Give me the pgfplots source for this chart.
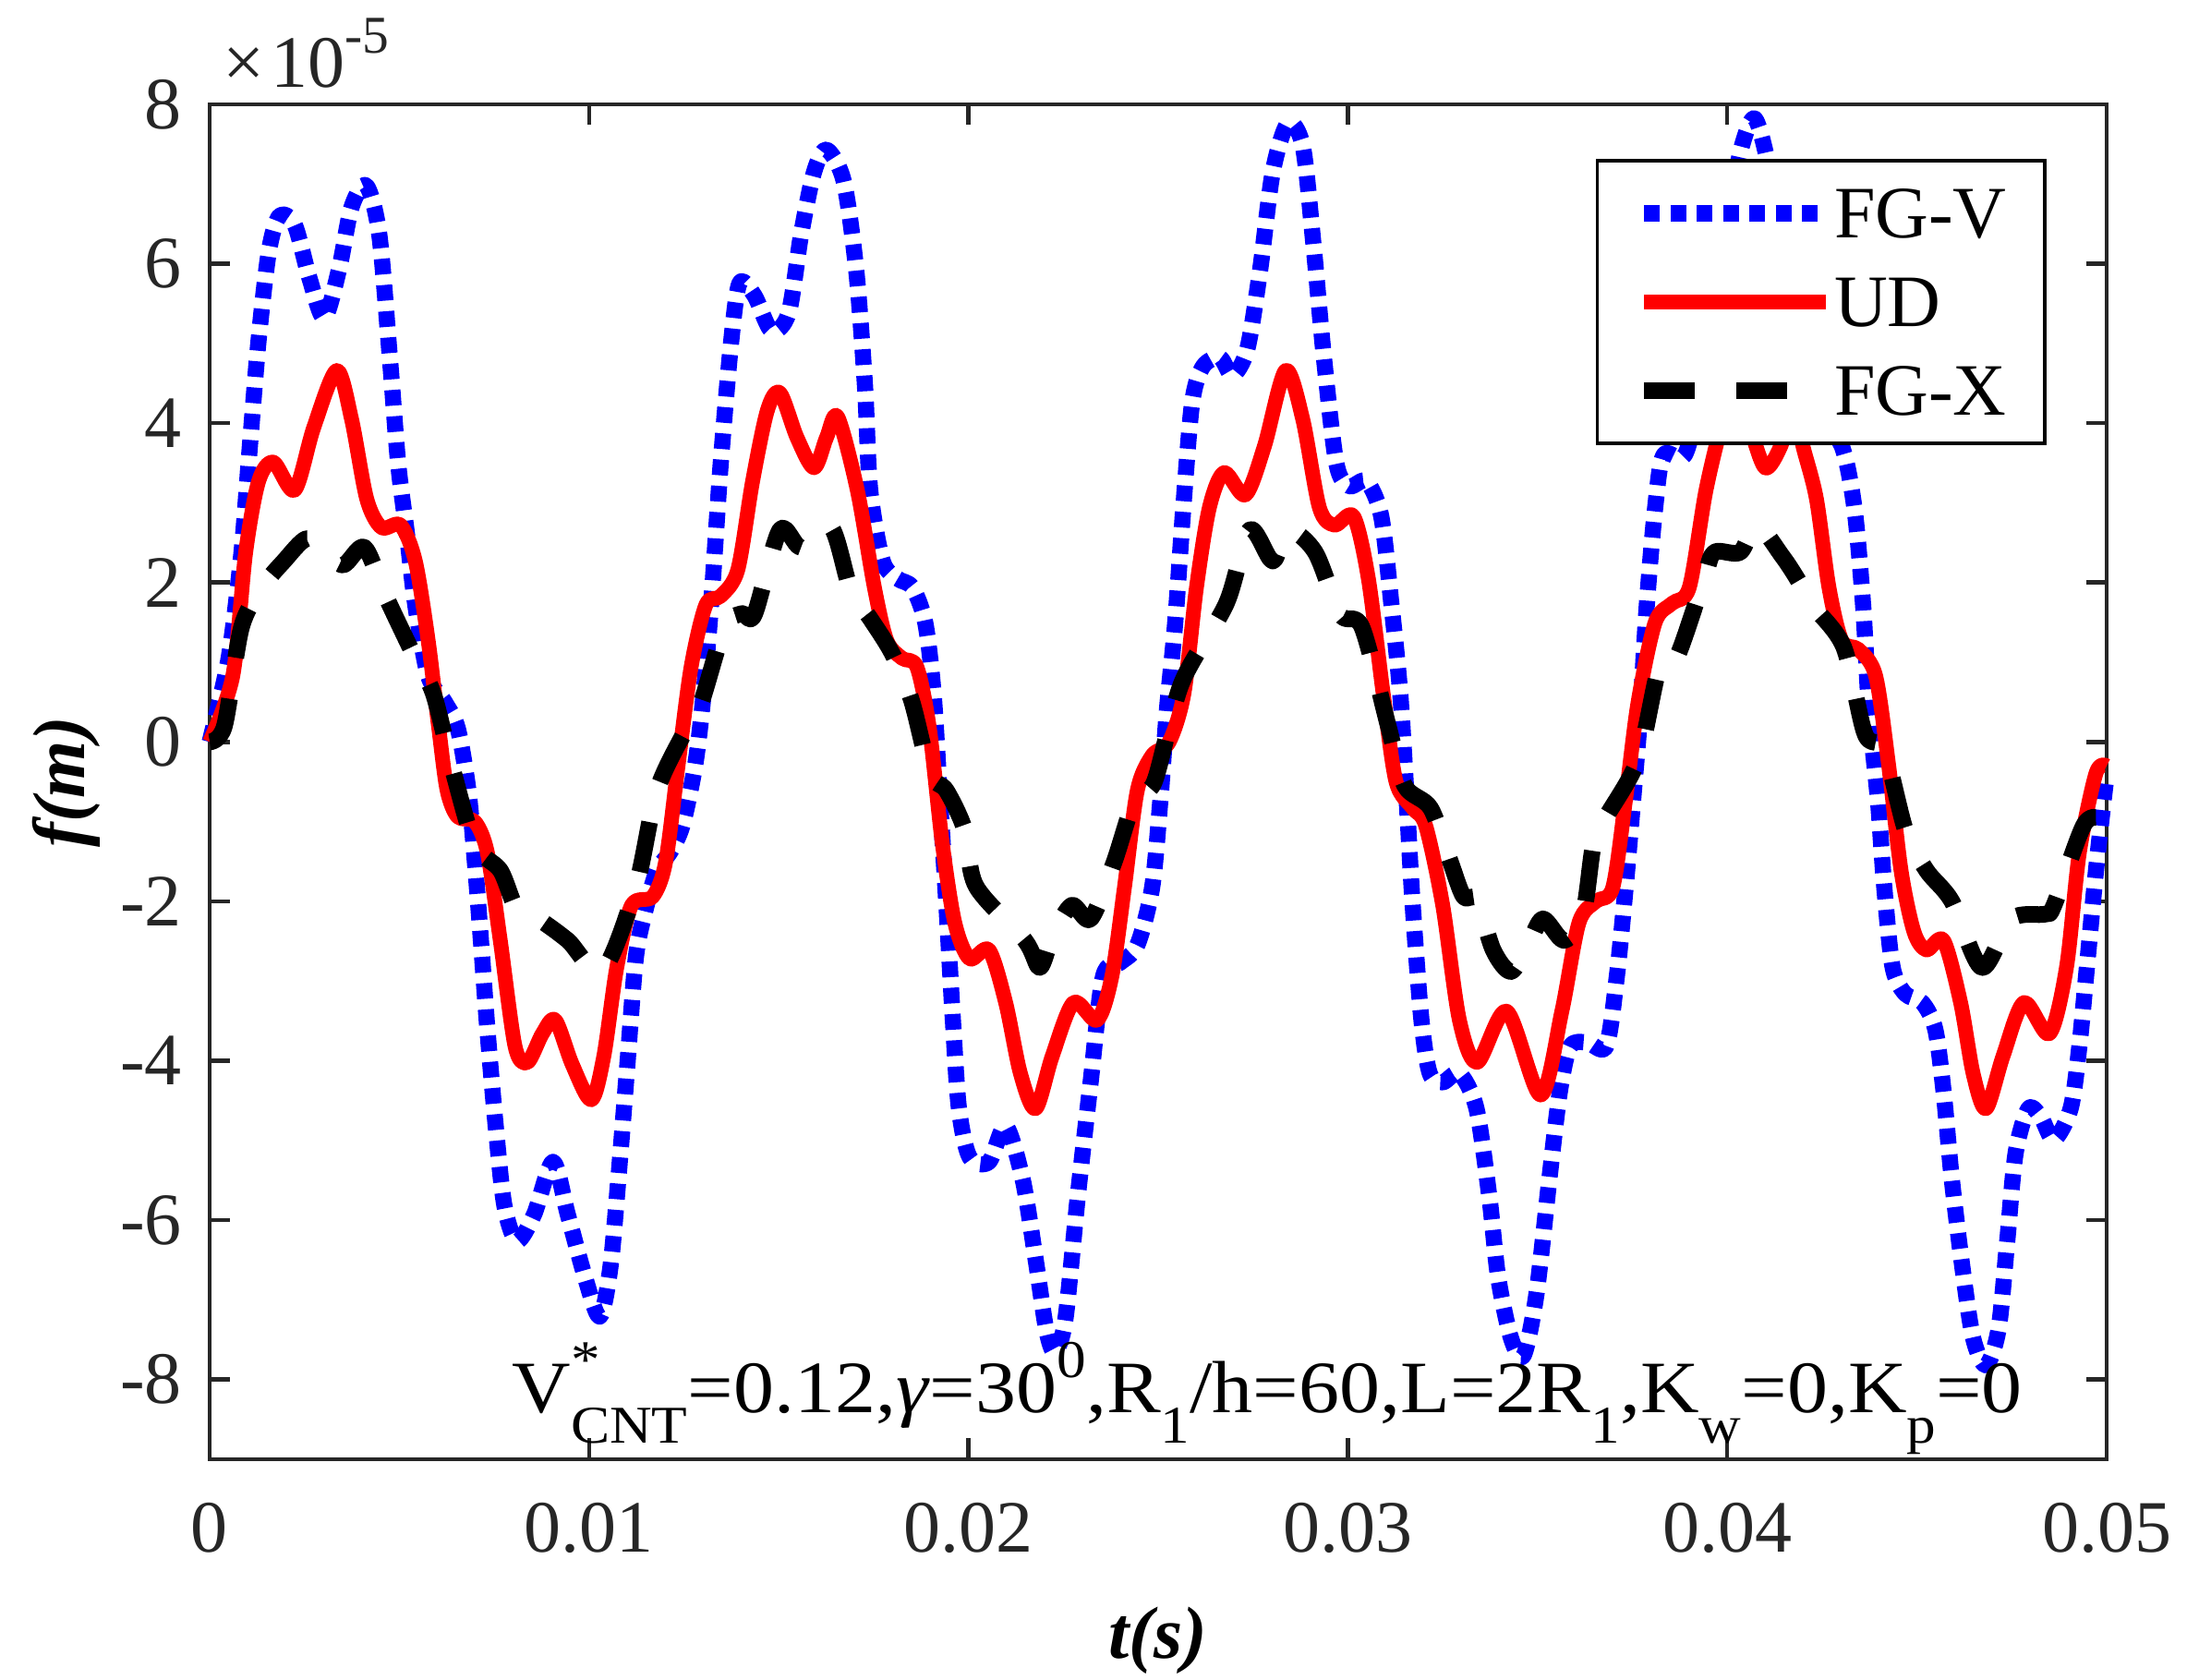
\documentclass[border=0pt]{standalone}
\usepackage{fontspec}
\setmainfont{Liberation Serif}
\usepackage{pgfplots}
\pgfplotsset{compat=1.18}
\definecolor{axgray}{rgb}{0.15,0.15,0.15}
\newcommand{\subsz}{\fontsize{11.5}{13}\selectfont}
\begin{document}
\begin{tikzpicture}
\path[use as bounding box] (-45.4pt,-47.8pt) rectangle (428.2pt,316pt);
\begin{axis}[
  at={(0pt,0pt)}, anchor=south west,
  scale only axis, width=410.8pt, height=293.4pt,
  xmin=0, xmax=0.05, ymin=-9, ymax=8,
  xtick={0,0.01,0.02,0.03,0.04,0.05},
  xticklabels={0,0.01,0.02,0.03,0.04,0.05},
  ytick={-8,-6,-4,-2,0,2,4,6,8},
  yticklabels={-8,-6,-4,-2,0,2,4,6,8},
  scaled ticks=false,
  tick align=inside, major tick length=4.5pt,
  every tick/.style={line width=0.9pt, color=axgray},
  axis line style={line width=0.9pt, color=axgray},
  tick label style={font=\fontsize{16}{19}\selectfont, color=axgray},
  xticklabel style={yshift=-6pt},
  yticklabel style={xshift=-2.5pt},
  clip=false,
  legend image code/.code={\draw[#1] (0pt,0pt) -- (39.4pt,0pt);},
  legend cell align=left,
  legend style={at={(0.9684,0.9598)}, anchor=north east, draw=black,
    line width=0.75pt, fill=white, font=\fontsize{16}{19}\selectfont,
    inner xsep=8.3pt, inner ysep=6pt, row sep=8.4pt,
    nodes={inner sep=0pt, text height=10.8pt, text depth=0pt},
    /tikz/every even column/.append style={column sep=5pt}},
]
\addplot[color=blue, line width=3.5pt, dash pattern=on 3.4pt off 2.3pt, line join=round, smooth] coordinates {
(0,0) (0.00050,1.05) (0.00084,2.38) (0.00106,3.71) (0.00129,5.04) (0.00156,6.15)
(0.00184,6.60) (0.00224,6.49) (0.00263,5.82) (0.00302,5.32) (0.00341,5.93) (0.00374,6.71)
(0.00413,6.98) (0.00447,6.37) (0.00475,4.82) (0.00497,3.49) (0.00520,2.61) (0.00542,1.72)
(0.00576,0.83) (0.00620,0.50) (0.00654,0.17) (0.00682,-0.61) (0.00699,-1.50) (0.00715,-2.49)
(0.00732,-3.60) (0.00754,-4.82) (0.00777,-5.82) (0.00810,-6.26) (0.00855,-5.93) (0.00905,-5.27)
(0.00944,-5.93) (0.00989,-6.71) (0.01028,-7.21) (0.01056,-6.60) (0.01079,-5.38) (0.01101,-4.05)
(0.01123,-2.72) (0.01146,-2.16) (0.01179,-1.61) (0.01213,-1.39) (0.01246,-1.05) (0.01280,-0.28)
(0.01302,0.61) (0.01325,1.94) (0.01347,3.49) (0.01375,5.04) (0.01397,5.76) (0.01436,5.60)
(0.01481,5.16) (0.01526,5.38) (0.01559,6.37) (0.01593,7.15) (0.01626,7.43) (0.01671,7.04)
(0.01704,5.93) (0.01727,4.49) (0.01741,3.16) (0.01774,2.27) (0.01813,2.05) (0.01852,1.94)
(0.01886,1.50) (0.01908,0.61) (0.01925,-0.72) (0.01942,-2.05) (0.01959,-3.49) (0.01975,-4.60)
(0.02003,-5.21) (0.02054,-5.27) (0.02098,-4.82) (0.02143,-5.49) (0.02177,-6.49) (0.02205,-7.37)
(0.02227,-7.65) (0.02255,-7.26) (0.02288,-5.71) (0.02322,-4.27) (0.02355,-2.94) (0.02400,-2.77)
(0.02445,-2.55) (0.02484,-1.83) (0.02506,-0.72) (0.02523,0.39) (0.02545,1.50) (0.02568,3.05)
(0.02590,4.27) (0.02618,4.71) (0.02663,4.82) (0.02696,4.60) (0.02735,4.93) (0.02769,5.93)
(0.02802,7.15) (0.02842,7.76) (0.02881,7.48) (0.02909,6.26) (0.02937,4.82) (0.02970,3.49)
(0.03004,3.21) (0.03049,3.27) (0.03088,2.83) (0.03115,1.72) (0.03138,0.61) (0.03155,-0.72)
(0.03171,-2.05) (0.03194,-3.49) (0.03216,-4.16) (0.03250,-4.27) (0.03294,-4.16) (0.03339,-4.60)
(0.03373,-5.71) (0.03396,-6.71) (0.03430,-7.48) (0.03463,-7.70) (0.03497,-6.93) (0.03531,-5.49)
(0.03559,-4.38) (0.03586,-3.82) (0.03631,-3.77) (0.03681,-3.82) (0.03709,-2.94) (0.03732,-1.83)
(0.03754,-0.61) (0.03771,0.39) (0.03788,1.72) (0.03810,2.94) (0.03832,3.60) (0.03888,3.60)
(0.03930,4.40) (0.03970,5.60) (0.04010,6.80) (0.04040,7.50) (0.04073,7.82) (0.04110,7.20)
(0.04150,6.00) (0.04190,4.80) (0.04240,4.10) (0.04302,3.71) (0.04335,2.94) (0.04358,1.72)
(0.04374,0.39) (0.04397,-0.72) (0.04414,-1.83) (0.04436,-2.83) (0.04469,-3.16) (0.04514,-3.27)
(0.04548,-3.60) (0.04570,-4.38) (0.04592,-5.49) (0.04620,-6.60) (0.04648,-7.48) (0.04682,-7.82)
(0.04715,-7.37) (0.04738,-6.26) (0.04760,-5.16) (0.04794,-4.60) (0.04827,-4.71) (0.04861,-4.99)
(0.04905,-4.60) (0.04928,-3.82) (0.04950,-2.72) (0.04972,-1.61) (0.04995,-0.61) (0.05000,-0.45)
};
\addlegendentry{FG-V}
\addplot[color=red, line width=3.2pt, line join=round, smooth] coordinates {
(0,0) (0.00061,0.83) (0.00095,2.38) (0.00129,3.27) (0.00168,3.51) (0.00224,3.16)
(0.00274,3.94) (0.00335,4.66) (0.00374,4.05) (0.00414,3.05) (0.00453,2.69) (0.00503,2.72)
(0.00542,2.27) (0.00576,1.27) (0.00604,0.17) (0.00626,-0.61) (0.00654,-0.94) (0.00699,-1.00)
(0.00732,-1.39) (0.00766,-2.49) (0.00805,-3.82) (0.00838,-4.02) (0.00877,-3.66) (0.00911,-3.49)
(0.00956,-4.05) (0.01006,-4.49) (0.01039,-3.94) (0.01073,-2.83) (0.01112,-2.05) (0.01168,-1.94)
(0.01202,-1.50) (0.01235,-0.28) (0.01269,0.94) (0.01308,1.72) (0.01347,1.83) (0.01392,2.16)
(0.01431,3.27) (0.01470,4.16) (0.01503,4.38) (0.01548,3.82) (0.01593,3.44) (0.01626,3.82)
(0.01655,4.08) (0.01707,3.16) (0.01752,1.94) (0.01785,1.27) (0.01825,1.05) (0.01864,0.94)
(0.01897,0.17) (0.01931,-1.27) (0.01964,-2.27) (0.02003,-2.72) (0.02054,-2.61) (0.02098,-3.27)
(0.02137,-4.16) (0.02177,-4.60) (0.02221,-3.94) (0.02277,-3.27) (0.02339,-3.49) (0.02378,-2.94)
(0.02411,-1.83) (0.02445,-0.61) (0.02484,-0.17) (0.02529,0.00) (0.02568,0.61) (0.02601,1.94)
(0.02635,2.94) (0.02674,3.38) (0.02730,3.10) (0.02780,3.71) (0.02836,4.66) (0.02881,4.05)
(0.02925,2.94) (0.02965,2.72) (0.03015,2.83) (0.03054,2.05) (0.03093,0.61) (0.03127,-0.50)
(0.03171,-0.83) (0.03205,-1.05) (0.03250,-2.05) (0.03294,-3.49) (0.03341,-4.02) (0.03419,-3.38)
(0.03508,-4.43) (0.03564,-3.38) (0.03609,-2.27) (0.03654,-2.00) (0.03698,-1.83) (0.03732,-0.72)
(0.03765,0.50) (0.03810,1.50) (0.03855,1.74) (0.03900,1.94) (0.03944,3.16) (0.03989,4.05)
(0.04025,4.50) (0.04060,3.95) (0.04100,3.44) (0.04140,3.70) (0.04175,4.20) (0.04200,3.70)
(0.04235,3.05) (0.04268,1.94) (0.04302,1.27) (0.04346,1.16) (0.04391,0.83) (0.04425,-0.28)
(0.04458,-1.61) (0.04492,-2.38) (0.04525,-2.61) (0.04570,-2.49) (0.04615,-3.27) (0.04648,-4.16)
(0.04682,-4.60) (0.04727,-3.94) (0.04782,-3.27) (0.04849,-3.66) (0.04894,-2.83) (0.04928,-1.39)
(0.04972,-0.39) (0.05000,-0.30)
};
\addlegendentry{UD}
\addplot[color=black, line width=3.6pt, dash pattern=on 11pt off 9pt, line join=round, smooth] coordinates {
(0,0) (0.00039,0.20) (0.00084,1.44) (0.00140,1.95) (0.00196,2.27) (0.00255,2.55)
(0.00300,2.40) (0.00352,2.22) (0.00408,2.44) (0.00464,1.83) (0.00542,1.05) (0.00590,0.60)
(0.00643,-0.39) (0.00700,-1.30) (0.00766,-1.61) (0.00810,-2.10) (0.00866,-2.22) (0.00944,-2.49)
(0.01034,-2.88) (0.01123,-1.83) (0.01179,-0.61) (0.01257,0.17) (0.01296,0.50) (0.01358,1.45)
(0.01403,1.61) (0.01436,1.60) (0.01503,2.66) (0.01559,2.44) (0.01637,2.70) (0.01690,1.90)
(0.01741,1.55) (0.01800,1.10) (0.01850,0.52) (0.01900,-0.40) (0.01942,-0.61) (0.01990,-1.10)
(0.02020,-1.81) (0.02149,-2.49) (0.02188,-2.83) (0.02221,-2.44) (0.02272,-2.05) (0.02322,-2.22)
(0.02383,-1.52) (0.02440,-0.70) (0.02490,-0.50) (0.02562,0.74) (0.02680,1.74) (0.02741,2.66)
(0.02802,2.27) (0.02842,2.66) (0.02914,2.38) (0.02980,1.60) (0.03037,1.44) (0.03107,0.19)
(0.03150,-0.55) (0.03218,-0.83) (0.03270,-1.50) (0.03305,-1.94) (0.03340,-1.98) (0.03383,-2.61)
(0.03430,-2.88) (0.03475,-2.55) (0.03514,-2.22) (0.03570,-2.49) (0.03620,-2.16) (0.03648,-1.27)
(0.03681,-0.94) (0.03765,-0.22) (0.03821,0.94) (0.03866,1.05) (0.03939,2.05) (0.03966,2.38)
(0.04034,2.38) (0.04078,2.72) (0.04145,2.33) (0.04184,2.05) (0.04224,1.72) (0.04307,1.19)
(0.04363,0.10) (0.04414,-0.10) (0.04470,-1.11) (0.04525,-1.61) (0.04592,-2.00) (0.04671,-2.83)
(0.04749,-2.22) (0.04838,-2.16) (0.04861,-2.05) (0.04939,-1.05) (0.04984,-0.94) (0.05000,-0.90)
};
\addlegendentry{FG-X}
\node[anchor=base west, inner sep=0pt, font=\fontsize{16}{19}\selectfont] at (axis cs:0.00795,-8.41)
{\scalebox{1.1}[1]{V\rlap{\raisebox{7.5pt}{\subsz *}}\raisebox{-6.6pt}{\subsz CNT}=0.12,\textit{γ}=30\raisebox{7.5pt}{\subsz 0},R\raisebox{-6.6pt}{\subsz 1}/h=60,L=2R\raisebox{-6.6pt}{\subsz 1},K\raisebox{-6.6pt}{\subsz w}=0,K\raisebox{-6.6pt}{\subsz p}=0}};
\node[anchor=base west, inner sep=0pt, font=\fontsize{16}{19}\selectfont, color=axgray] at (rel axis cs:0,1)
  [xshift=2.6pt, yshift=3.6pt] {×\hspace{1.5pt}10\raisebox{7.4pt}{\fontsize{11.5}{13}\selectfont -5}};
\node[anchor=base, inner sep=0pt, font=\fontsize{16}{19}\selectfont\bfseries\itshape] at ([yshift=-43pt]rel axis cs:0.5,0) {t(s)};
\node[anchor=center, rotate=90, inner sep=0pt, font=\fontsize{16}{19}\selectfont\bfseries\itshape] at ([xshift=-31pt]rel axis cs:0,0.5) {f(m)};
\end{axis}
\end{tikzpicture}
\end{document}
